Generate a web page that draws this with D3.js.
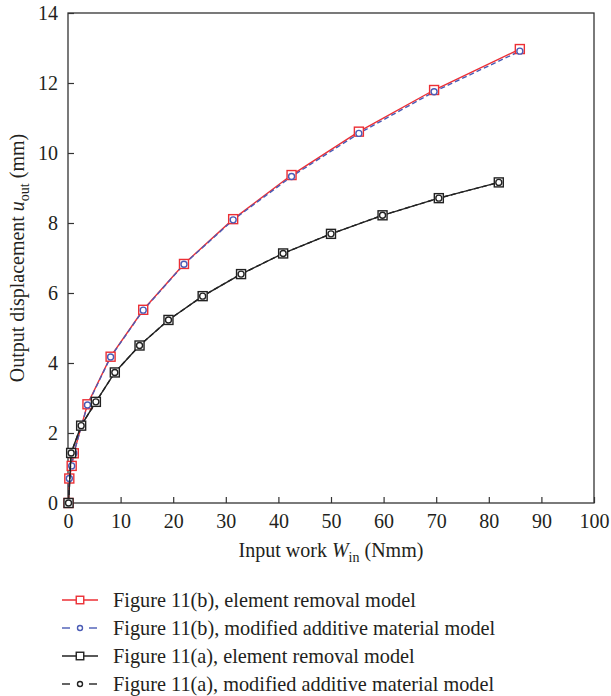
<!DOCTYPE html>
<html>
<head>
<meta charset="utf-8">
<script src="https://cdn.jsdelivr.net/npm/d3@7"></script>
<style>
  body { margin: 0; background: #fff; }
  svg text { font-family: "Liberation Serif", "DejaVu Serif", serif; fill: #231f20; }
</style>
</head>
<body>
<div id="chart"></div>
<script>
// input work W_in (Nmm) and output displacement u_out (mm)
var bRemovalX = [0.1, 0.25, 0.7, 1.1, 3.7, 8.1, 14.3, 22.05, 31.4, 42.5, 55.3, 69.6, 85.9];
var bRemovalY = [0, 0.7, 1.06, 1.42, 2.82, 4.18, 5.52, 6.83, 8.11, 9.37, 10.61, 11.8, 12.97];
var bAdditiveX = [0.1, 0.25, 0.7, 1.1, 3.7, 8.1, 14.3, 22.05, 31.4, 42.5, 55.3, 69.6, 85.9];
var bAdditiveY = [0, 0.7, 1.06, 1.42, 2.8, 4.17, 5.51, 6.82, 8.09, 9.33, 10.56, 11.75, 12.91];
var aRemovalX = [0.1, 0.6, 2.5, 5.3, 8.9, 13.6, 19.1, 25.6, 32.9, 40.9, 50.0, 59.8, 70.5, 81.9];
var aRemovalY = [0, 1.43, 2.21, 2.89, 3.73, 4.5, 5.23, 5.91, 6.54, 7.13, 7.69, 8.22, 8.71, 9.16];
var aAdditiveX = [0.1, 0.6, 2.5, 5.3, 8.9, 13.6, 19.1, 25.6, 32.9, 40.9, 50.0, 59.8, 70.5, 81.9];
var aAdditiveY = [0, 1.43, 2.21, 2.89, 3.73, 4.5, 5.23, 5.91, 6.54, 7.13, 7.69, 8.22, 8.71, 9.16];
var legendLabels = [
  "Figure 11(b), element removal model",
  "Figure 11(b), modified additive material model",
  "Figure 11(a), element removal model",
  "Figure 11(a), modified additive material model"
];

var width = 611, height = 696;
var margin = { top: 13, right: 17, bottom: 193, left: 68 };
var w = width - margin.left - margin.right,
    h = height - margin.top - margin.bottom;

var svg = d3.select("#chart").append("svg")
    .attr("width", width)
    .attr("height", height);

var g = svg.append("g")
    .attr("transform", "translate(" + margin.left + "," + margin.top + ")");

var x = d3.scaleLinear().domain([0, 100]).range([0, w]);
var y = d3.scaleLinear().domain([0, 14]).range([h, 0]);

// frame
g.append("rect")
    .attr("width", w).attr("height", h)
    .attr("fill", "none").attr("stroke", "#333").attr("stroke-width", 1.3);

// axes, ticks pointing inwards
var xAxis = g.append("g")
    .attr("transform", "translate(0," + h + ")")
    .call(d3.axisBottom(x).tickValues(d3.range(0, 101, 10)).tickSizeInner(-6).tickSizeOuter(0).tickPadding(11));
var yAxis = g.append("g")
    .call(d3.axisLeft(y).tickValues(d3.range(0, 15, 2)).tickSizeInner(-6).tickSizeOuter(0).tickPadding(10));
[xAxis, yAxis].forEach(function (a) {
  a.select(".domain").remove();
  a.selectAll("line").attr("stroke", "#333").attr("stroke-width", 1.2);
  a.selectAll("text").style("font-size", "20px").attr("font-family", null).attr("fill", "#231f20");
});

// axis titles
var xt = svg.append("text")
    .attr("x", margin.left + w / 2).attr("y", 557)
    .attr("text-anchor", "middle").style("font-size", "20px");
xt.append("tspan").text("Input work ");
xt.append("tspan").style("font-style", "italic").text("W");
xt.append("tspan").attr("dy", 5).style("font-size", "14px").text("in");
xt.append("tspan").attr("dy", -5).text(" (Nmm)");

var yt = svg.append("text")
    .attr("transform", "translate(24," + (margin.top + h / 2) + ") rotate(-90)")
    .attr("text-anchor", "middle").style("font-size", "20px");
yt.append("tspan").text("Output displacement ");
yt.append("tspan").style("font-style", "italic").text("u");
yt.append("tspan").attr("dy", 5).style("font-size", "14px").text("out");
yt.append("tspan").attr("dy", -5).text(" (mm)");

var series = [
  { xs: bRemovalX, ys: bRemovalY, color: "#ec2f35", dash: null, marker: "square" },
  { xs: bAdditiveX, ys: bAdditiveY, color: "#4a5bb5", dash: "5,3", marker: "circle" },
  { xs: aRemovalX, ys: aRemovalY, color: "#222", dash: null, marker: "square" },
  { xs: aAdditiveX, ys: aAdditiveY, color: "#222", dash: "5,3", marker: "circle" }
];

var line = d3.line().x(function (d) { return x(d[0]); }).y(function (d) { return y(d[1]); });

function drawMarker(sel, type, color, cx, cy, size) {
  if (type === "square") {
    sel.append("rect")
      .attr("x", cx - size / 2).attr("y", cy - size / 2)
      .attr("width", size).attr("height", size)
      .attr("fill", "#fff").attr("stroke", color).attr("stroke-width", 1.4);
  } else {
    sel.append("circle")
      .attr("cx", cx).attr("cy", cy).attr("r", size / 3)
      .attr("fill", "#fff").attr("stroke", color).attr("stroke-width", 1.4);
  }
}

// draw the two groups: b first (red/blue), then a (black)
[[0, 1], [2, 3]].forEach(function (pair) {
  pair.forEach(function (i) {
    var s = series[i];
    var pts = d3.zip(s.xs, s.ys);
    g.append("path").datum(pts)
      .attr("d", line)
      .attr("fill", "none")
      .attr("stroke", s.color)
      .attr("stroke-width", 1.4)
      .attr("stroke-dasharray", s.dash);
  });
  pair.forEach(function (i) {
    var s = series[i];
    var mg = g.append("g");
    d3.zip(s.xs, s.ys).forEach(function (p) {
      drawMarker(mg, s.marker, s.color, x(p[0]), y(p[1]), 9);
    });
  });
});

// legend
var legend = svg.append("g").attr("transform", "translate(62,600)");
series.forEach(function (s, i) {
  var row = legend.append("g").attr("transform", "translate(0," + i * 28 + ")");
  if (s.dash) {
    row.append("line").attr("x1", 0).attr("x2", 8).attr("stroke", s.color).attr("stroke-width", 1.4);
    row.append("line").attr("x1", 27).attr("x2", 35).attr("stroke", s.color).attr("stroke-width", 1.4);
  } else {
    row.append("line").attr("x1", 0).attr("x2", 36).attr("stroke", s.color).attr("stroke-width", 1.4);
  }
  drawMarker(row, s.marker, s.color, 18, 0, 7.5);
  row.append("text")
    .attr("x", 51).attr("y", 7)
    .style("font-size", "20.3px")
    .text(legendLabels[i]);
});
</script>
</body>
</html>
